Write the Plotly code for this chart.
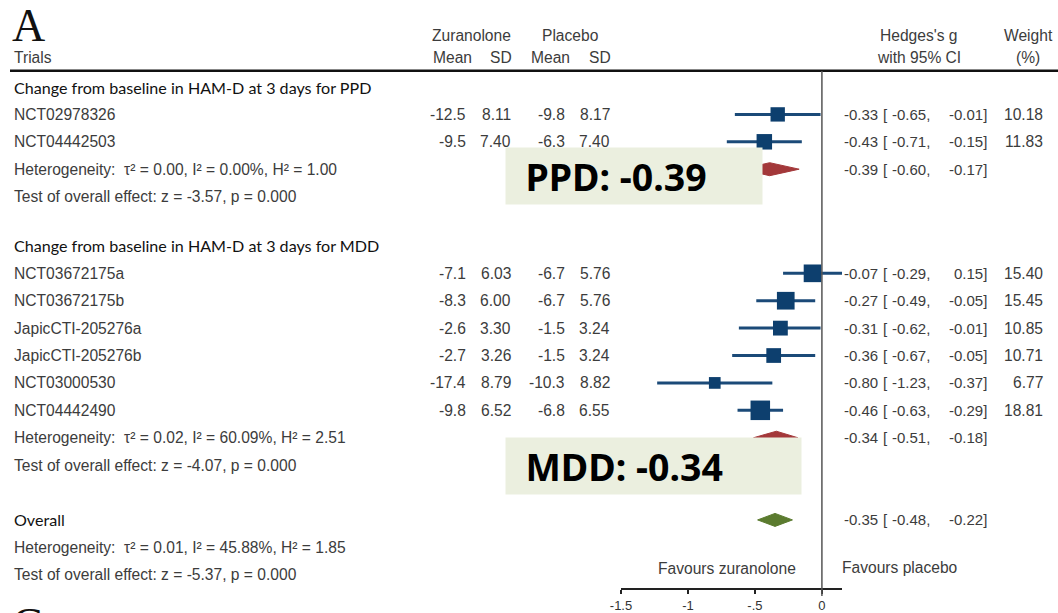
import plotly.graph_objects as go

# ---- study-level data -------------------------------------------------------
ppd_trials = ["NCT02978326", "NCT04442503"]
ppd_zur_mean = [-12.5, -9.5]
ppd_zur_sd = [8.11, 7.40]
ppd_pla_mean = [-9.8, -6.3]
ppd_pla_sd = [8.17, 7.40]
ppd_g = [-0.33, -0.43]
ppd_lo = [-0.65, -0.71]
ppd_hi = [-0.01, -0.15]
ppd_weight = [10.18, 11.83]

mdd_trials = ["NCT03672175a", "NCT03672175b", "JapicCTI-205276a",
              "JapicCTI-205276b", "NCT03000530", "NCT04442490"]
mdd_zur_mean = [-7.1, -8.3, -2.6, -2.7, -17.4, -9.8]
mdd_zur_sd = [6.03, 6.00, 3.30, 3.26, 8.79, 6.52]
mdd_pla_mean = [-6.7, -6.7, -1.5, -1.5, -10.3, -6.8]
mdd_pla_sd = [5.76, 5.76, 3.24, 3.24, 8.82, 6.55]
mdd_g = [-0.07, -0.27, -0.31, -0.36, -0.80, -0.46]
mdd_lo = [-0.29, -0.49, -0.62, -0.67, -1.23, -0.63]
mdd_hi = [0.15, -0.05, -0.01, -0.05, -0.37, -0.29]
mdd_weight = [15.40, 15.45, 10.85, 10.71, 6.77, 18.81]

# pooled estimates: [estimate, lower, upper]
pooled_ppd = [-0.39, -0.60, -0.17]
pooled_mdd = [-0.34, -0.51, -0.18]
pooled_all = [-0.35, -0.48, -0.22]

# heterogeneity: tau^2, I^2, H^2, z, p
het_ppd = [0.00, 0.00, 1.00, -3.57, 0.000]
het_mdd = [0.02, 60.09, 2.51, -4.07, 0.000]
het_all = [0.01, 45.88, 1.85, -5.37, 0.000]

tick_vals = [-1.5, -1, -0.5, 0]
tick_text = ["-1.5", "-1", "-.5", "0"]

# ---- layout constants (pixels) ---------------------------------------------
W, H = 1058, 613
ROW0, PITCH = 87, 27.4


def row_y(slot):
    return ROW0 + slot * PITCH


SANS = "Liberation Sans, Arial, sans-serif"
HEAD = "Lato, Carlito, sans-serif"
TXT = "#3c3c3c"
SQ_COL = "#0d3f6e"
LINE_COL = "#1b4a78"
FS = 15.6      # table text size
FS_R = 15.0    # effect-size column size

fig = go.Figure()
ann = []


def txt(xpx, y, s, anchor="left", size=FS, color=TXT, family=SANS):
    ann.append(dict(x=xpx / W, xref="paper", y=y, yref="y", text=s,
                    xanchor=anchor, yanchor="middle", showarrow=False,
                    font=dict(size=size, color=color, family=family)))


def ci_text(y, e, lo, hi):
    txt(880, y, f"{e:.2f}", "right", FS_R)
    txt(881, y, "[", "left", FS_R)
    txt(932, y, f"{lo:.2f},", "right", FS_R)
    txt(989, y, f"{hi:.2f}]", "right", FS_R)


def study_rows(names, zm, zs, pm, ps, g, lo, hi, w, slot0):
    ys = [row_y(slot0 + i) for i in range(len(names))]
    for i, y in enumerate(ys):
        txt(12, y, names[i])
        txt(468, y, f"{zm[i]:.1f}", "right")
        txt(513, y, f"{zs[i]:.2f}", "right")
        txt(567, y, f"{pm[i]:.1f}", "right")
        txt(612, y, f"{ps[i]:.2f}", "right")
        ci_text(y, g[i], lo[i], hi[i])
        txt(1045, y, f"{w[i]:.2f}", "right")
        fig.add_trace(go.Scatter(x=[lo[i], hi[i]], y=[y, y], mode="lines",
                                 line=dict(color=LINE_COL, width=3),
                                 hoverinfo="skip", showlegend=False))
    fig.add_trace(go.Scatter(
        x=g, y=ys, mode="markers",
        marker=dict(symbol="square", color=SQ_COL, opacity=1,
                    size=[4.5 * v ** 0.5 for v in w], line=dict(width=0)),
        showlegend=False))


def diamond(est, y, color, half=6.5):
    e, lo, hi = est
    fig.add_trace(go.Scatter(x=[lo, e, hi, e, lo], y=[y, y - half, y, y + half, y],
                             mode="lines", fill="toself", fillcolor=color,
                             line=dict(color=color, width=1),
                             hoverinfo="skip", showlegend=False))
    ci_text(y, e, lo, hi)


def het_lines(h, slot):
    t2, i2, h2, z, p = h
    txt(12, row_y(slot),
        f"Heterogeneity:  τ² = {t2:.2f}, I² = {i2:.2f}%, H² = {h2:.2f}")
    txt(12, row_y(slot + 1), f"Test of overall effect: z = {z:.2f}, p = {p:.3f}")


# ---- header -----------------------------------------------------------------
ann.append(dict(x=10 / W, xref="paper", y=25, yref="y", text="A", xanchor="left",
                yanchor="middle", showarrow=False,
                font=dict(size=46, color="#111", family="Liberation Serif, serif")))
txt(12, 57, "Trials")
txt(471, 35, "Zuranolone", "center")
txt(570, 35, "Placebo", "center")
txt(452, 57, "Mean", "center")
txt(501, 57, "SD", "center")
txt(550, 57, "Mean", "center")
txt(600, 57, "SD", "center")
txt(919, 35, "Hedges's g", "center")
txt(919, 57, "with 95% CI", "center")
txt(1028, 35, "Weight", "center")
txt(1028, 57, "(%)", "center")

# ---- PPD block --------------------------------------------------------------
txt(12, row_y(0), "Change from baseline in HAM-D at 3 days for PPD",
    size=16.1, color="#111", family=HEAD)
study_rows(ppd_trials, ppd_zur_mean, ppd_zur_sd, ppd_pla_mean, ppd_pla_sd,
           ppd_g, ppd_lo, ppd_hi, ppd_weight, 1)
diamond(pooled_ppd, row_y(3), "#a3383a")
het_lines(het_ppd, 3)

# ---- MDD block --------------------------------------------------------------
txt(12, row_y(5.8), "Change from baseline in HAM-D at 3 days for MDD",
    size=16.1, color="#111", family=HEAD)
study_rows(mdd_trials, mdd_zur_mean, mdd_zur_sd, mdd_pla_mean, mdd_pla_sd,
           mdd_g, mdd_lo, mdd_hi, mdd_weight, 6.8)
diamond(pooled_mdd, row_y(12.8), "#a3383a")
het_lines(het_mdd, 12.8)

# ---- overall ----------------------------------------------------------------
txt(12, row_y(15.8), "Overall", size=16.1, color="#111", family=HEAD)
diamond(pooled_all, row_y(15.8), "#5b7b2f")
het_lines(het_all, 16.8)

txt(727, 568, "Favours zuranolone", "center")
txt(900, 567, "Favours placebo", "center")

# next panel letter, mostly below the visible area
ann.append(dict(x=10 / W, xref="paper", y=597, yref="y", text="C", xanchor="left",
                yanchor="top", showarrow=False,
                font=dict(size=46, color="#111", family="Liberation Serif, serif")))

# ---- highlight boxes with pooled values ------------------------------------
for (x0, x1, y0, y1, label, est) in [(505, 761, 147, 203, "PPD", pooled_ppd[0]),
                                      (505, 800, 437, 493, "MDD", pooled_mdd[0])]:
    ann.append(dict(x=x0 / W, xref="paper", y=y0, yref="y",
                    text=f"\u00a0\u00a0<b>{label}: {est:.2f}</b>",
                    xanchor="left", yanchor="top", showarrow=False,
                    width=x1 - x0, height=y1 - y0, align="left", valign="middle",
                    bgcolor="#ebefdf", borderpad=0,
                    font=dict(size=37.5, color="#000",
                              family="Noto Sans, Open Sans, sans-serif")))

shapes = [
    # rule under the column headers
    dict(type="line", xref="paper", yref="y", x0=10 / W, x1=1, y0=70.7, y1=70.7,
         line=dict(color="#111", width=2.5)),
    # line of no effect
    dict(type="line", xref="x", yref="y", x0=0, x1=0, y0=71, y1=596,
         line=dict(color="#555", width=1.5)),
]

fig.update_layout(
    width=W, height=H, autosize=False,
    margin=dict(l=0, r=0, t=0, b=0, pad=0, autoexpand=False),
    paper_bgcolor="white", plot_bgcolor="rgba(0,0,0,0)",
    showlegend=False,
    annotations=ann, shapes=shapes,
    xaxis=dict(domain=[621 / W, 842 / W], range=[-1.5, 0.15],
               anchor="free", position=1 - 589 / H, automargin=False,
               showline=True, linecolor="#222", linewidth=2,
               ticks="outside", ticklen=4, tickwidth=2, tickcolor="#222",
               tickvals=tick_vals, ticktext=tick_text,
               tickfont=dict(size=13, color="#333", family=SANS),
               showgrid=False, zeroline=False, fixedrange=True),
    yaxis=dict(domain=[0, 1], range=[H, 0], visible=False, automargin=False,
               fixedrange=True),
)

fig.write_html("out.html")
